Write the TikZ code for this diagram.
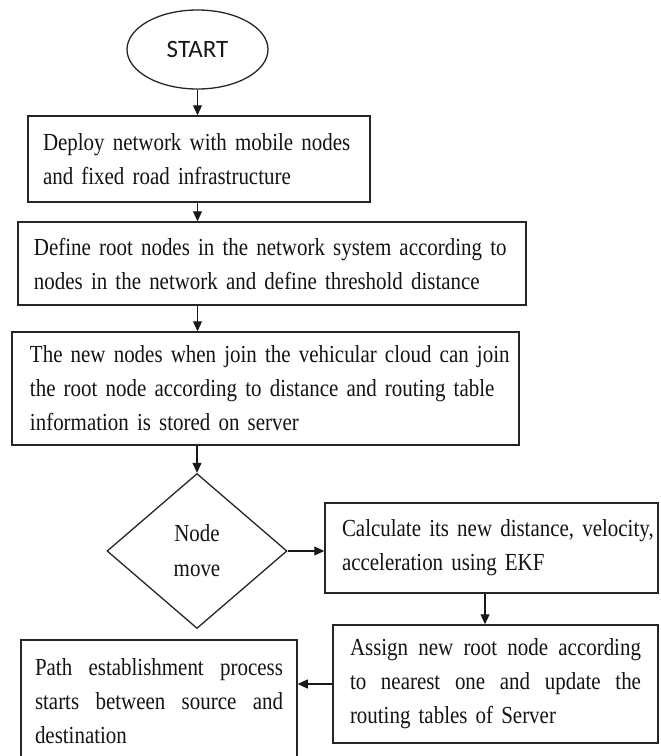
\documentclass[tikz,border=0pt]{standalone}
\usepackage{fontspec}
\setmainfont{Liberation Serif}[FakeStretch=0.855]
\newfontfamily\startfont{Carlito}
\usetikzlibrary{arrows.meta,shapes.geometric}
\newcommand\jline[2]{\leavevmode\hbox to #1{#2}}
\begin{document}
\begin{tikzpicture}[x=1pt,y=-1pt,
  box/.style={draw=black!85, line width=1.5pt, rectangle, inner xsep=0pt, inner ysep=0pt,
    align=left, font=\fontsize{24.5}{34}\selectfont, text=black!92},
  arr/.style={draw=black!90, line width=1.2pt, -{Triangle[length=10pt,width=9pt]}}]
\useasboundingbox (0,0) rectangle (661,756);
\clip (0,0) rectangle (661,756);
\fill[white] (0,0) rectangle (661,756);

\node[ellipse, draw=black!85, line width=1.3pt, minimum width=141, minimum height=79, inner sep=0pt,
  font=\startfont\fontsize{25}{28}\selectfont, text=black!90] (start) at (197.5,49.5) {START};

\node[box, minimum width=342, minimum height=86, text width=312] (deploy) at (199,159)
  {\mbox{Deploy network with mobile nodes}\\\mbox{and fixed road infrastructure}};

\node[box, minimum width=508, minimum height=83, text width=476] (define) at (272,263.5)
  {\mbox{Define root nodes in the network system according to}\\\mbox{nodes in the network and define threshold distance}};

\node[box, minimum width=507, minimum height=113, text width=471] (join) at (265.5,388.5)
  {\mbox{The new nodes when join the vehicular cloud can join}\\\mbox{the root node according to distance and routing table}\\\mbox{information is stored on server}};

\node[diamond, draw=black!85, line width=1.3pt, minimum width=180, minimum height=155, inner sep=0pt,
  align=center, font=\fontsize{24.5}{35}\selectfont, text=black!92] (move) at (197,551) {Node\\move};

\node[box, minimum width=333, minimum height=90, text width=299] (calc) at (491.5,548)
  {\mbox{Calculate its new distance, velocity,}\\\mbox{acceleration using EKF}};

\node[box, minimum width=325, minimum height=118, text width=291] (assign) at (495.5,684)
  {\jline{291pt}{Assign\hfill new\hfill root\hfill node\hfill according}\\\jline{291pt}{to\hfill nearest\hfill one\hfill and\hfill update\hfill the}\\\mbox{routing tables of Server}};

\node[box, minimum width=276, minimum height=122, text width=248] (path) at (159,701)
  {\jline{248pt}{Path\hfill establishment\hfill process}\\\jline{248pt}{starts\hfill between\hfill source\hfill and}\\\mbox{destination}};

\coordinate (cx) at (485,0);
\draw[arr] (start.south) -- (deploy.north -| start.south);
\draw[arr] (deploy.south -| start.south) -- (define.north -| start.south);
\draw[arr] (define.south -| start.south) -- (join.north -| start.south);
\draw[arr] (join.south -| move.north) -- (move.north);
\draw[arr] (move.east) -- (calc.west |- move.east);
\draw[arr] (calc.south -| cx) -- (assign.north -| cx);
\draw[arr] (assign.west) -- (path.east |- assign.west);
\end{tikzpicture}
\end{document}
